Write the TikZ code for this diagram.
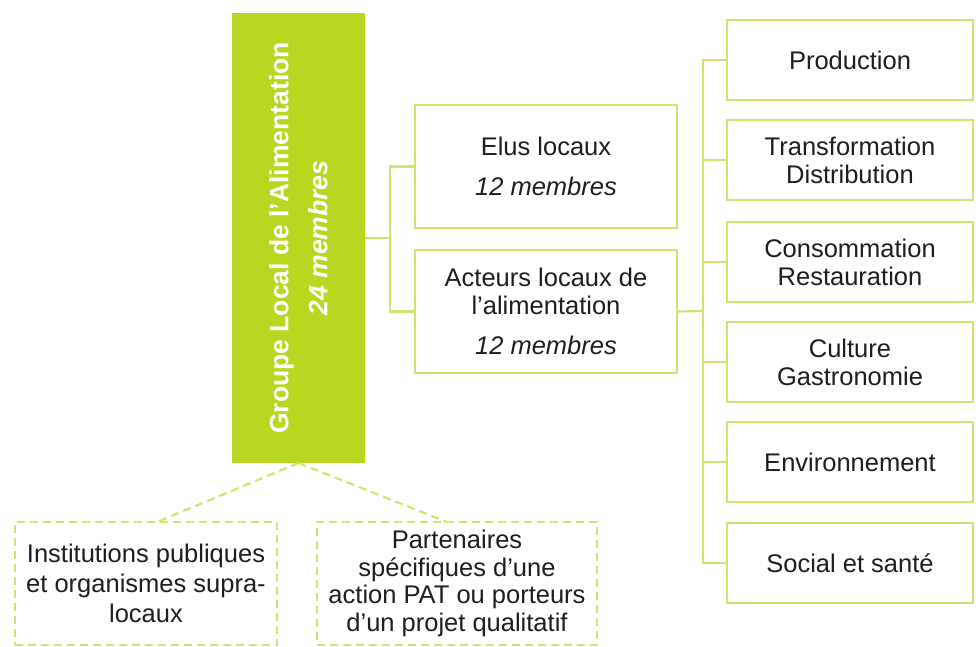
\documentclass[tikz,border=0pt]{standalone}
\usepackage{fontspec}
\setmainfont{Liberation Sans}
\definecolor{glfill}{RGB}{186,214,32}
\definecolor{glline}{RGB}{210,228,112}
\definecolor{txt}{RGB}{30,30,30}
\tikzset{
  box/.style={draw=glline, line width=2.6pt, fill=white, inner sep=0pt, outer sep=0pt,
    align=center, text=txt, font=\fontsize{25.5}{28}\selectfont},
  dbox/.style={draw=glline, line width=2.2pt, dash pattern=on 8pt off 5pt, inner sep=0pt, outer sep=0pt,
    align=center, text=txt, font=\fontsize{25.5}{30}\selectfont},
  conn/.style={draw=glline, line width=2.2pt},
  dconn/.style={draw=glline, line width=2.2pt, dash pattern=on 8pt off 5pt},
}
\begin{document}
\begin{tikzpicture}[x=1pt,y=-1pt]
\useasboundingbox (0,0) rectangle (978,647);
% main green box
\node[fill=glfill, minimum width=133pt, minimum height=450pt, inner sep=0pt, outer sep=0pt] (glae) at (298.5,238) {};
\node[rotate=90, text=white, align=center, font=\fontsize{26.5}{39}\selectfont\bfseries] (glaetext) at (298.5,238)
  {Groupe Local de l'Alimentation\\\textit{24 membres}};
% middle boxes
\node[box, minimum width=262pt, minimum height=123pt] (elus) at (546,166.5) {Elus locaux\\[12pt]\textit{12 membres}};
\node[box, minimum width=262pt, minimum height=123pt] (acteurs) at (546,311.5) {Acteurs locaux de\\l’alimentation\\[12pt]\textit{12 membres}};
% right boxes
\node[box, minimum width=246pt, minimum height=80pt] (prod) at (850,60) {Production};
\node[box, minimum width=246pt, minimum height=80pt] (trans) at (850,160) {Transformation\\Distribution};
\node[box, minimum width=246pt, minimum height=80pt] (cons) at (850,262) {Consommation\\Restauration};
\node[box, minimum width=246pt, minimum height=80pt] (cult) at (850,362) {Culture\\Gastronomie};
\node[box, minimum width=246pt, minimum height=80pt] (env) at (850,462) {Environnement};
\node[box, minimum width=246pt, minimum height=80pt] (soc) at (850,563) {Social et santé};
% bottom dashed boxes
\node[dbox, minimum width=262pt, minimum height=123pt] (inst) at (146,583.5) {Institutions publiques\\et organismes supra-\\locaux};
\node[dbox, minimum width=280pt, minimum height=123pt, font=\fontsize{25.5}{27.5}\selectfont] (part) at (457,583.5) {Partenaires\\spécifiques d’une\\action PAT ou porteurs\\d’un projet qualitatif};
% connectors
\coordinate (j1) at (390,238);
\coordinate (j2) at (703,311);
\draw[conn] (glae.east |- j1) -- (j1);
\draw[conn] (elus.west) -| (j1);
\draw[conn] (acteurs.west) -| (j1);
\draw[conn] (acteurs.east) -- (j2);
\foreach \n in {prod,trans,cons,cult,env,soc} \draw[conn] (\n.west) -| (j2);
\draw[dconn] (glae.south) -- ([xshift=11pt]inst.north);
\draw[dconn] (glae.south) -- ([xshift=-10pt]part.north);
\end{tikzpicture}
\end{document}
